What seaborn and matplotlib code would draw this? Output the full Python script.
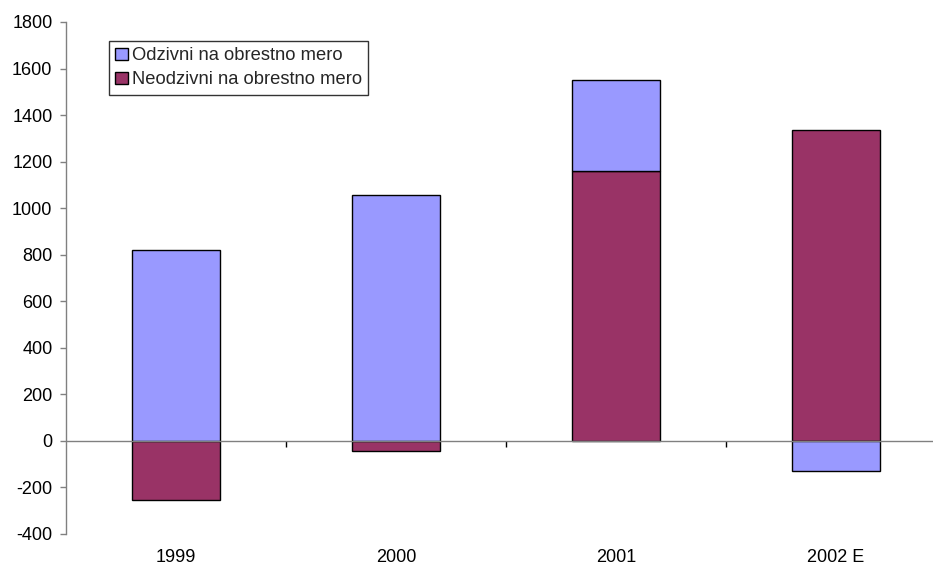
import numpy as np
import matplotlib
matplotlib.use("Agg")
import matplotlib.pyplot as plt
import seaborn as sns
from matplotlib.patches import Patch

# data
years = ["1999", "2000", "2001", "2002 E"]
odzivni = [820, 1055, 390, -130]
neodzivni = [-255, -45, 1160, 1335]
odzivni_bottom = [0, 0, 1160, 0]
labels = ["Odzivni na obrestno mero", "Neodzivni na obrestno mero"]
colors = ["#9999FF", "#993366"]

sns.set_theme(style="white")
plt.rcParams['font.family'] = ['Liberation Sans', 'DejaVu Sans']
plt.rcParams['axes.unicode_minus'] = False

fig = plt.figure(figsize=(9.33, 5.69), dpi=100)
# axes extend slightly past the right edge like the original
ax = fig.add_axes([66 / 933, 35 / 569, 880 / 933, 512 / 569])

sns.barplot(x=years, y=neodzivni, color=colors[1], saturation=1, width=0.4,
            edgecolor="black", linewidth=1, ax=ax)
sns.barplot(x=years, y=odzivni, bottom=odzivni_bottom, color=colors[0],
            saturation=1, width=0.4, edgecolor="black", linewidth=1, ax=ax)

ax.set_xlim(-0.5, 3.5)
ax.set_ylim(-400, 1800)
ax.set_yticks(np.arange(-400, 1801, 200))
ax.set_xlabel("")
ax.set_ylabel("")

for s in ["top", "right", "bottom"]:
    ax.spines[s].set_visible(False)
ax.spines["left"].set_color("#808080")
ax.spines["left"].set_linewidth(1)
ax.tick_params(axis="y", length=4.3, width=1, color="#808080", direction="out",
               labelsize=13, labelcolor="black", pad=5.5, left=True)
ax.tick_params(axis="x", length=0, labelsize=13, labelcolor="black", pad=11)

# zero line with category dividers
ax.axhline(0, color="#808080", linewidth=1, zorder=1)
sec = ax.secondary_xaxis(400 / 2200)
sec.set_xticks([0.5, 1.5, 2.5])
sec.set_xticklabels([])
sec.spines["bottom"].set_visible(False)
sec.tick_params(axis="x", length=4.3, width=1, color="black", direction="out")

handles = [Patch(facecolor=c, edgecolor="black", linewidth=1) for c in colors]
leg = ax.legend(handles, labels, loc="upper left", bbox_to_anchor=(43 / 880, 1 - 19 / 512),
                frameon=True, fancybox=False, fontsize=13.2, handlelength=0.7,
                handleheight=0.7, handletextpad=0.2, borderpad=0.35,
                labelspacing=0.38, borderaxespad=0)
leg.get_frame().set_edgecolor("black")
leg.get_frame().set_linewidth(1)

fig.savefig("out.png", dpi=100, facecolor="white")
